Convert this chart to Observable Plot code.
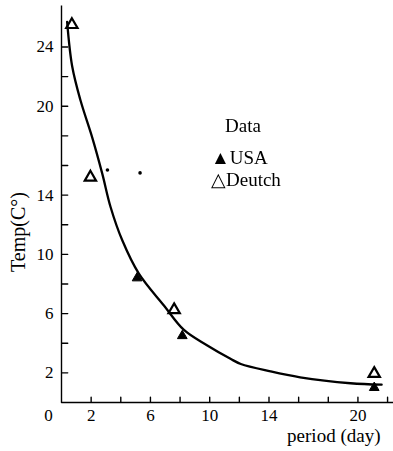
<!DOCTYPE html>
<html>
<head>
<meta charset="utf-8">
<script src="https://cdn.jsdelivr.net/npm/d3@7"></script>
<script src="https://cdn.jsdelivr.net/npm/@observablehq/plot@0.6"></script>
<style>
  html, body { margin: 0; padding: 0; background: #fff; }
  #chart svg { display: block; }
  #legend { position: fixed; left: 0; top: 0; width: 393px; height: 0; font-family: 'Liberation Serif', 'Times New Roman', serif; font-size: 19px; line-height: 22px; color: #000; }
  #legend div { position: absolute; white-space: nowrap; }
</style>
</head>
<body>
<div id="chart"></div>
<div id="legend"></div>
<script>
const yTicks = [2, 4, 6, 8, 10, 12, 14, 16, 18, 20, 22, 24];
const yTickLabels = [2, 6, 10, 14, 20, 24];
const xTicks = [2, 4, 6, 8, 10, 12, 14, 16, 18, 20, 22];
const xTickLabels = [2, 6, 10, 14, 20];

const legendTitle = "Data";
const seriesNames = ["USA", "Deutch"];
const seriesGlyphs = ["▲", "△"];

const deutchPeriod = [0.7, 1.95, 7.6, 21.1];
const deutchTemp   = [25.5, 15.2, 6.25, 1.95];

const usaPeriod = [5.1, 8.15, 21.1];
const usaTemp   = [8.4, 4.5, 1.0];

const usaFaintPeriod = [3.1, 5.3];
const usaFaintTemp   = [15.7, 15.5];

const curvePeriod = [0.38, 0.72, 1.28, 2.07, 2.75, 3.31, 4.1, 5.22, 6.91, 8.26, 9.84, 11.4, 12.1, 14.1, 16.1, 19.5, 21.6];
const curveTemp   = [25.7, 22.7, 20.4, 17.9, 15.45, 13.2, 10.95, 8.7, 6.55, 4.9, 3.85, 2.95, 2.6, 2.1, 1.7, 1.3, 1.2];

const zip = (xs, ys) => xs.map((x, i) => ({x, y: ys[i]}));
const deutch = zip(deutchPeriod, deutchTemp);
const usa = zip(usaPeriod, usaTemp);
const usaFaint = zip(usaFaintPeriod, usaFaintTemp);
const curve = zip(curvePeriod, curveTemp);

const xMax = 22.4, yMax = 26.8;
const yTickLen = 0.42, xTickLen = 0.36; // in data units (about 6 px / 5 px)

// one L-shaped path for both axes, with inward tick marks, built from the tick arrays
const axisPath = [{x: 0, y: yMax}];
[...yTicks].reverse().forEach(t => axisPath.push({x: 0, y: t}, {x: yTickLen, y: t}, {x: 0, y: t}));
axisPath.push({x: 0, y: 0});
xTicks.forEach(t => axisPath.push({x: t, y: 0}, {x: t, y: xTickLen}, {x: t, y: 0}));
axisPath.push({x: xMax, y: 0});

const serif = "'Liberation Serif', 'Times New Roman', serif";

const chart = Plot.plot({
  width: 393,
  height: 451,
  marginLeft: 61,
  marginRight: 0,
  marginTop: 5,
  marginBottom: 49,
  style: {fontFamily: serif, background: "#fff", color: "#000"},
  x: {domain: [0, xMax], axis: null},
  y: {domain: [0, yMax], axis: null},
  marks: [
    Plot.line(axisPath, {x: "x", y: "y", stroke: "#000", strokeWidth: 1.4, strokeLinejoin: "round", strokeLinecap: "butt"}),
    Plot.axisY(yTicks, {tickSize: 0, tickPadding: 8, fontSize: 17, fontFamily: serif, fill: "#000", label: null,
      tickFormat: d => yTickLabels.includes(d) ? String(d) : ""}),
    Plot.axisX(xTicks, {tickSize: 0, tickPadding: 6, fontSize: 17, fontFamily: serif, fill: "#000", label: null,
      tickFormat: d => xTickLabels.includes(d) ? String(d) : ""}),
    Plot.text(["0"], {x: 0, y: 0, dx: -13, dy: 13, fontSize: 17, fontFamily: serif, fill: "#000"}),
    Plot.line(curve, {x: "x", y: "y", curve: "catmull-rom", stroke: "#000", strokeWidth: 2.3}),
    Plot.dot(usaFaint, {x: "x", y: "y", r: 1.8, fill: "#000"}),
    Plot.dot(usa, {x: "x", y: "y", symbol: "triangle", r: 3.6, fill: "#000", stroke: "#000", strokeWidth: 1}),
    Plot.dot(deutch, {x: "x", y: "y", symbol: "triangle", r: 4.2, fill: "none", stroke: "#000", strokeWidth: 2.2}),
    Plot.text(["Temp(C°)"], {frameAnchor: "left", dx: -43, dy: 68, rotate: -90, fontSize: 20, fontFamily: serif, fill: "#000"}),
    Plot.text(["period (day)"], {frameAnchor: "bottom-right", dx: -13, dy: 39, textAnchor: "end", fontSize: 19, fontFamily: serif, fill: "#000"})
  ]
});
document.getElementById("chart").append(chart);

// legend (inside the plot area, upper right)
const legend = document.getElementById("legend");
const t = document.createElement("div");
t.textContent = legendTitle;
t.style.left = "225px"; t.style.top = "115px";
legend.append(t);
seriesNames.forEach((name, i) => {
  const d = document.createElement("div");
  d.textContent = seriesGlyphs[i] + name;
  d.style.left = "211px"; d.style.top = (147 + i * 22) + "px";
  legend.append(d);
});
</script>
</body>
</html>
